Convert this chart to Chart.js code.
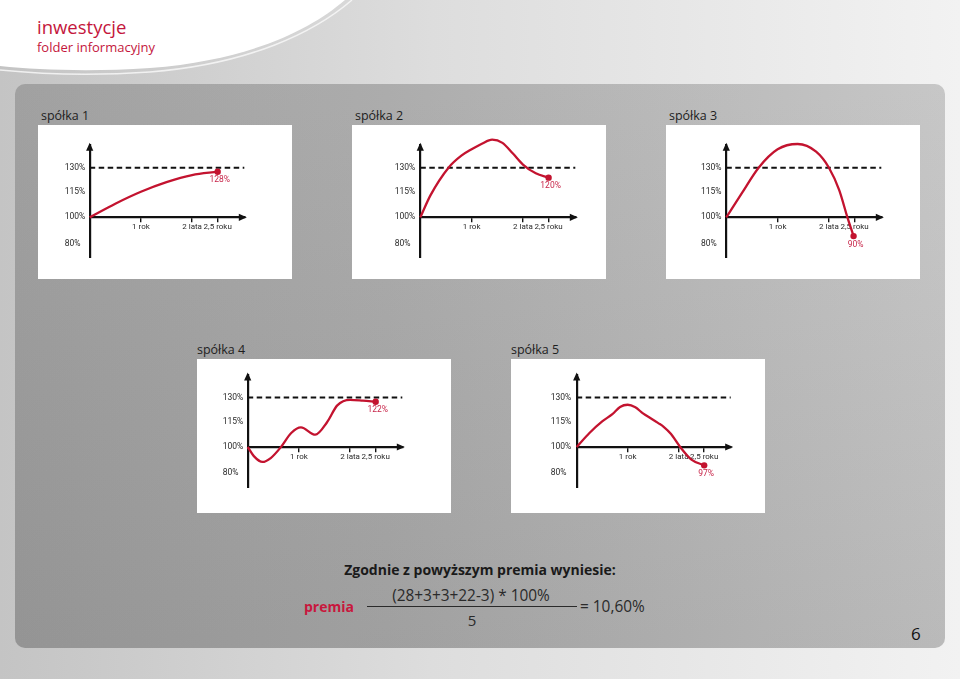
<!DOCTYPE html>
<html>
<head>
<meta charset="utf-8">
<script src="https://cdn.jsdelivr.net/npm/chart.js@4.4.1/dist/chart.umd.min.js"></script>
<style>
  html, body { margin: 0; padding: 0; }
  body {
    width: 960px; height: 679px; position: relative; overflow: hidden;
    font-family: "Open Sans", sans-serif;
    background: linear-gradient(to right, #c4c4c4 0%, #dddddd 45%, #f2f2f2 100%);
  }
  #swoosh { position: absolute; left: 0; top: 0; }
  .t { position: absolute; line-height: 1; white-space: nowrap; }
  .title { left: 37px; color: #c4163c; }
  #panel {
    position: absolute; left: 15px; top: 84px; width: 930px; height: 564px; border-radius: 10px;
    background: linear-gradient(to bottom, rgba(255,255,255,0.05), rgba(0,0,0,0.05)),
                linear-gradient(to right, #9c9c9c 0%, #a8a8a8 40%, #c4c4c4 100%);
  }
  .name { font-size: 12.5px; color: #1e1e1e; }
  canvas.box { position: absolute; background: #fff; }
</style>
</head>
<body>
<svg id="swoosh" width="960" height="95">
  <path d="M0,0 H345 C310,30 250,60 150,68 C90,72 40,70 0,66 Z" fill="#ffffff"/>
  <path d="M0,70 C40,74 90,76 150,72 C250,64 315,32 352,0" fill="none" stroke="#fafafa" stroke-width="1.5" opacity="0.8"/>
</svg>
<div class="t title" style="top:18px;font-size:18.5px">inwestycje</div>
<div class="t title" style="top:41px;font-size:13px">folder informacyjny</div>
<div id="panel"></div>

<div class="t name" style="left:41px;top:110px">spółka 1</div>
<div class="t name" style="left:355px;top:110px">spółka 2</div>
<div class="t name" style="left:669px;top:110px">spółka 3</div>
<div class="t name" style="left:197px;top:344px">spółka 4</div>
<div class="t name" style="left:511px;top:344px">spółka 5</div>

<canvas class="box" id="c0" width="254" height="154" style="left:38px;top:125px"></canvas>
<canvas class="box" id="c1" width="254" height="154" style="left:352px;top:125px"></canvas>
<canvas class="box" id="c2" width="254" height="154" style="left:666px;top:125px"></canvas>
<canvas class="box" id="c3" width="254" height="154" style="left:197px;top:359px"></canvas>
<canvas class="box" id="c4" width="254" height="154" style="left:511px;top:359px"></canvas>

<div class="t" style="left:0;width:960px;text-align:center;top:563px;font-size:14px;font-weight:bold;color:#1a1a1a">Zgodnie z powyższym premia wyniesie:</div>
<div class="t" style="left:304px;top:600px;font-size:14px;font-weight:bold;color:#c8173d">premia</div>
<div class="t" style="left:371px;width:200px;text-align:center;top:588px;font-size:15.4px;color:#2a2a2a">(28+3+3+22-3) * 100%</div>
<div style="position:absolute;left:367px;top:606px;width:210px;height:1.4px;background:#2a2a2a"></div>
<div class="t" style="left:372px;width:200px;text-align:center;top:613px;font-size:15px;color:#2a2a2a">5</div>
<div class="t" style="left:580px;top:599px;font-size:15.4px;color:#2a2a2a">= 10,60%</div>
<div class="t" style="left:911px;top:625px;font-size:17px;color:#111">6</div>

<script>
// years on the x axis, values in % of the starting level (schematic reading)
const years1 = [0, 0.5, 1, 1.5, 2, 2.5];
const values1 = [100, 108, 115, 121, 125.4, 127.5];

const years2 = [0, 0.2, 0.55, 0.8, 1, 1.2, 1.4, 1.6, 1.8, 2, 2.25, 2.5];
const values2 = [100, 113, 130, 137.5, 141.5, 145, 147.5, 145.5, 139, 132, 126.5, 123.8];

const years3 = [0, 0.3, 0.63, 1, 1.39, 1.75, 2, 2.2, 2.36, 2.48];
const values3 = [100, 114, 130, 141.5, 144.8, 140, 130, 116, 100, 85.6];

const years4 = [0, 0.12, 0.29, 0.45, 0.65, 0.85, 1.04, 1.32, 1.55, 1.75, 2, 2.25, 2.5];
const values4 = [100, 93, 88.5, 91.5, 100, 108.2, 111.5, 107.2, 114.5, 125, 128.5, 128, 127.3];

const years5 = [0, 0.25, 0.5, 0.7, 0.85, 1, 1.15, 1.3, 1.45, 1.6, 1.7, 1.85, 2.03, 2.25, 2.5];
const values5 = [100, 108.2, 115, 119.5, 124, 125.4, 123.8, 120, 117, 114, 112, 107.6, 100, 90.3, 85.9];

const endLabels = ['128%', '120%', '90%', '122%', '97%'];

const yTicks = [80, 100, 115, 130];
const yLabels = ['80%', '100%', '115%', '130%'];
const xTicks = [1, 2, 2.5];
const xLabels = ['1 rok', '2 lata', '2,5 roku'];
const barrier = 130;

const allYears = [years1, years2, years3, years4, years5];
const allValues = [values1, values2, values3, values4, values5];

const RED = '#c3132f';
const X_MAX = 3.02;
const Y_MIN = 69;
const Y_MAX = 144;
const SMALL = '"Roboto", sans-serif';

// where the axes sit inside each white box
const frames = [
  { labelX: 26.7, axisX: 51.7, tipX: 208.3, top: 20.3, bottom: 132.7 },
  { labelX: 42.7, axisX: 68.3, tipX: 225.3, top: 20.3, bottom: 132.7 },
  { labelX: 35, axisX: 60.3, tipX: 217.3, top: 20.3, bottom: 132.7 },
  { labelX: 25.7, axisX: 50.7, tipX: 207.3, top: 16, bottom: 128.3 },
  { labelX: 39.7, axisX: 65.7, tipX: 221.7, top: 16, bottom: 128.3 }
];

// the printed axis spaces 80/100/115/130 almost evenly, so map values piecewise
function toUnit(v) {
  if (v <= 100) return (v - 80) * 26 / 20;
  if (v <= 115) return 26 + (v - 100) * 25.6 / 15;
  return 51.6 + (v - 115) * 24 / 15;
}
function fromUnit(u) {
  if (u <= 26) return 80 + u * 20 / 26;
  if (u <= 51.6) return 100 + (u - 26) * 15 / 25.6;
  return 115 + (u - 51.6) * 15 / 24;
}

class SchematicScale extends Chart.LinearScale {
  getPixelForValue(v) {
    const lo = toUnit(this.min), hi = toUnit(this.max);
    return this.getPixelForDecimal((toUnit(v) - lo) / (hi - lo));
  }
  getValueForPixel(p) {
    const lo = toUnit(this.min), hi = toUnit(this.max);
    return fromUnit(lo + this.getDecimalForPixel(p) * (hi - lo));
  }
}
SchematicScale.id = 'schematic';
Chart.register(SchematicScale);

Chart.defaults.font.family = '"Open Sans", sans-serif';

const arrowPlugin = {
  id: 'arrows',
  afterDraw(chart) {
    const { ctx, chartArea: a, scales } = chart;
    const y0 = scales.y.getPixelForValue(100);
    ctx.save();
    ctx.fillStyle = '#111';
    ctx.beginPath();
    ctx.moveTo(a.left, a.top - 2.5);
    ctx.lineTo(a.left - 3.6, a.top + 5.5);
    ctx.lineTo(a.left + 3.6, a.top + 5.5);
    ctx.fill();
    ctx.beginPath();
    ctx.moveTo(a.right + 2.5, y0);
    ctx.lineTo(a.right - 5.5, y0 - 3.6);
    ctx.lineTo(a.right - 5.5, y0 + 3.6);
    ctx.fill();
    ctx.restore();
  }
};

const endLabelPlugin = {
  id: 'endLabel',
  afterDatasetsDraw(chart, args, opts) {
    const meta = chart.getDatasetMeta(0);
    const pt = meta.data[meta.data.length - 1];
    const ctx = chart.ctx;
    ctx.save();
    ctx.font = '8.5px ' + SMALL;
    ctx.fillStyle = '#c8264a';
    ctx.textAlign = 'center';
    ctx.textBaseline = 'middle';
    ctx.fillText(opts.text, pt.x + 2, pt.y + 8.5);
    ctx.restore();
  }
};

function makeChart(i) {
  const f = frames[i];
  const xs = allYears[i];
  const ys = allValues[i];
  new Chart(document.getElementById('c' + i), {
    type: 'line',
    data: {
      datasets: [
        {
          data: xs.map((x, k) => ({ x: x, y: ys[k] })),
          borderColor: RED,
          borderWidth: 2.3,
          cubicInterpolationMode: 'monotone',
          capBezierPoints: false,
          pointRadius: xs.map((_, k) => (k === xs.length - 1 ? 3.2 : 0)),
          pointBackgroundColor: RED,
          pointBorderWidth: 0,
          clip: false
        },
        {
          data: [{ x: 0, y: barrier }, { x: X_MAX, y: barrier }],
          borderColor: '#111',
          borderWidth: 2,
          borderDash: [5.5, 3.5],
          pointRadius: 0,
          clip: false
        }
      ]
    },
    options: {
      responsive: false,
      animation: false,
      events: [],
      layout: { padding: { left: f.labelX, top: f.top, right: 254 - f.tipX + 2, bottom: 154 - f.bottom } },
      plugins: {
        legend: { display: false },
        tooltip: { enabled: false },
        endLabel: { text: endLabels[i] }
      },
      scales: {
        x: {
          type: 'linear',
          min: 0,
          max: X_MAX,
          position: { y: 100 },
          afterBuildTicks: s => { s.ticks = xTicks.map(v => ({ value: v })); },
          ticks: {
            callback: v => xLabels[xTicks.indexOf(v)],
            autoSkip: false,
            maxRotation: 0,
            padding: 1,
            color: '#2a2a2a',
            font: { size: 8, family: SMALL }
          },
          grid: { drawOnChartArea: false, drawTicks: true, tickLength: 4, color: '#111', lineWidth: 1.4 },
          border: { color: '#111', width: 2.2 }
        },
        y: {
          type: 'schematic',
          min: Y_MIN,
          max: Y_MAX,
          afterBuildTicks: s => { s.ticks = yTicks.map(v => ({ value: v })); },
          afterFit: s => { s.width = f.axisX - f.labelX; },
          ticks: {
            callback: v => yLabels[yTicks.indexOf(v)],
            autoSkip: false,
            crossAlign: 'far',
            padding: 0,
            color: '#2a2a2a',
            font: { size: 8.5, family: SMALL }
          },
          grid: { drawOnChartArea: false, drawTicks: false },
          border: { color: '#111', width: 2.2 }
        }
      }
    },
    plugins: [arrowPlugin, endLabelPlugin]
  });
}

for (let i = 0; i < 5; i++) makeChart(i);
</script>
</body>
</html>
